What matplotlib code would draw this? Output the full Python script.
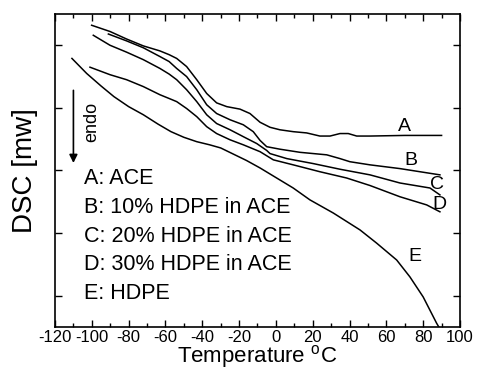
import numpy as np
import matplotlib
matplotlib.use("Agg")
from matplotlib import pyplot as plt
from matplotlib.ticker import MultipleLocator, NullFormatter

plt.rcParams['font.family'] = ['Liberation Sans', 'DejaVu Sans']
plt.rcParams['mathtext.fontset'] = 'custom'
plt.rcParams['mathtext.rm'] = 'Liberation Sans'

# curve data (temperature in C, DSC in arbitrary units)
a_t = [-100.1, -90.1, -81.1, -72.0, -63.0, -58.0, -53.9, -48.5, -43.0, -37.6, -32.2, -26.7,
       -19.5, -14.1, -8.6, -3.2, 2.2, 9.4, 16.7, 23.9, 29.4, 34.8, 39.3, 43.9, 51.1, 70.0, 90.0]
a_dsc = [4.82, 4.72, 4.60, 4.49, 4.41, 4.35, 4.29, 4.16, 3.95, 3.73, 3.58, 3.52,
         3.48, 3.41, 3.27, 3.19, 3.15, 3.12, 3.10, 3.05, 3.05, 3.09, 3.09, 3.05, 3.05, 3.06, 3.06]

b_t = [-91.0, -81.1, -72.0, -63.0, -58.0, -53.9, -48.5, -43.0, -37.6, -32.2, -24.9, -17.7,
       -12.3, -8.6, -5.0, 2.2, 13.1, 27.6, 34.8, 40.2, 51.1, 67.4, 89.1]
b_dsc = [4.68, 4.57, 4.46, 4.32, 4.24, 4.13, 4.00, 3.79, 3.55, 3.41, 3.31, 3.23,
         3.12, 2.98, 2.88, 2.84, 2.79, 2.75, 2.69, 2.64, 2.59, 2.53, 2.43]

c_t = [-99.2, -90.1, -81.1, -72.0, -63.0, -58.0, -53.9, -48.5, -43.0, -37.6, -32.2, -24.9,
       -17.7, -10.4, -5.0, -3.2, 5.9, 13.1, 20.3, 34.8, 51.1, 67.4, 83.7, 89.1]
c_dsc = [4.66, 4.50, 4.39, 4.27, 4.13, 4.04, 3.95, 3.79, 3.60, 3.39, 3.25, 3.15,
         3.04, 2.93, 2.82, 2.77, 2.69, 2.65, 2.61, 2.52, 2.43, 2.30, 2.22, 2.11]

d_t = [-101.0, -90.1, -81.1, -72.0, -63.0, -58.0, -53.9, -48.5, -43.0, -37.6, -32.2, -24.9,
       -17.7, -8.6, -1.4, 9.4, 23.9, 38.4, 51.1, 67.4, 81.9, 89.1]
d_dsc = [4.15, 4.03, 3.95, 3.84, 3.71, 3.65, 3.60, 3.49, 3.36, 3.20, 3.09, 2.99,
         2.91, 2.80, 2.67, 2.59, 2.48, 2.38, 2.26, 2.08, 1.95, 1.84]

e_t = [-110.8, -102.8, -95.0, -88.0, -80.0, -72.0, -64.0, -57.0, -50.0, -43.0, -36.0, -30.0,
       -23.0, -16.0, -8.6, 0.4, 9.4, 18.5, 31.2, 45.7, 54.7, 65.6, 72.8, 80.0, 87.3, 88.5]
e_dsc = [4.29, 4.05, 3.85, 3.68, 3.52, 3.39, 3.24, 3.12, 3.03, 2.96, 2.91, 2.86,
         2.76, 2.66, 2.54, 2.38, 2.22, 2.03, 1.82, 1.55, 1.34, 1.07, 0.80, 0.48, 0.06, 0.0]

curve_names = ['A', 'B', 'C', 'D', 'E']
legend_lines = ['A: ACE', 'B: 10% HDPE in ACE', 'C: 20% HDPE in ACE',
                'D: 30% HDPE in ACE', 'E: HDPE']
x_ticks = [-120, -100, -80, -60, -40, -20, 0, 20, 40, 60, 80, 100]

fig = plt.figure(figsize=(4.8, 3.78), dpi=100)
ax = fig.add_axes([0.1146, 0.135, 0.8437, 0.828])

for t, d in [(a_t, a_dsc), (b_t, b_dsc), (c_t, c_dsc), (d_t, d_dsc), (e_t, e_dsc)]:
    ax.plot(t, d, color='black', lw=1.1, solid_joinstyle='round')

# letters at the end of each curve
label_pos = [(70.1, 3.2), (73.2, 2.66), (87.3, 2.27), (89.1, 1.95), (75.5, 1.12)]
for name, (lx, ly) in zip(curve_names, label_pos):
    ax.text(lx, ly, name, fontsize=14, ha='center', va='center')

# legend written as plain text
for i, s in enumerate(legend_lines):
    ax.text(-104, 2.37 - i * 0.46, s, fontsize=15.5, ha='left', va='center')

# endo arrow
ax.annotate('', xy=(-110, 2.62), xytext=(-110, 3.78),
            arrowprops=dict(arrowstyle='-|>', color='black', lw=1.2,
                            mutation_scale=12, shrinkA=0, shrinkB=0))
ax.text(-100, 3.28, 'endo', rotation=90, fontsize=13, ha='center', va='center')

ax.set_xlim(-120, 100)
ax.set_ylim(0, 5)
ax.set_xticks(x_ticks)
ax.set_xticklabels([str(v) for v in x_ticks])
ax.xaxis.set_minor_locator(MultipleLocator(10))
ax.set_yticks([0.5, 1.5, 2.5, 3.5, 4.5])
ax.yaxis.set_major_formatter(NullFormatter())
ax.tick_params(which='both', direction='in', top=True, right=True, width=1.0)
ax.tick_params(which='major', length=5, labelsize=12, pad=2)
ax.tick_params(which='minor', length=3)
for sp in ax.spines.values():
    sp.set_linewidth(1.2)

ax.set_xlabel('Temperature $^{\\mathrm{o}}$C', fontsize=16, labelpad=-1)
ax.set_ylabel('DSC [mw]', fontsize=20, labelpad=10)

fig.savefig('out.png', dpi=100)
